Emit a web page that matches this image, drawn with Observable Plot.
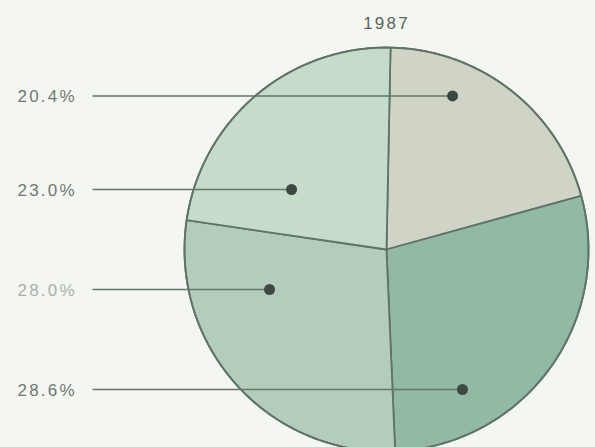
<!DOCTYPE html>
<html>
<head>
<meta charset="utf-8">
<script src="https://cdn.jsdelivr.net/npm/d3@7"></script>
<script src="https://cdn.jsdelivr.net/npm/@observablehq/plot@0.6"></script>
<style>
  html, body { margin: 0; padding: 0; background: #f4f6f2; }
  #chart svg { display: block; }
  #chart svg text { letter-spacing: 2.2px; }
</style>
</head>
<body>
<div id="chart"></div>
<script>
// ---- data (clockwise from 12 o'clock) ----
const title = "1987";
const shares = [20.4, 28.6, 28.0, 23.0];
const shareLabels = ["20.4%", "28.6%", "28.0%", "23.0%"];

// ---- styles / layout (not data) ----
const sliceColors = ["#cfd4c6", "#91b9a4", "#b4ccbc", "#c5dcca"];
const labelColors = ["#6f7871", "#6f7871", "#a9b0aa", "#6f7871"];
// anchor dot inside each slice, in units of the pie radius (x right, y up)
const anchors = [[0.327, 0.76], [0.376, -0.693], [-0.579, -0.198], [-0.47, 0.297]];
const W = 595, H = 447;
const cx = 386, cy = 249, R = 202;       // pie centre & radius in px
const labelX = (17 - cx) / R;            // label left edge (radius units)
const leaderX = (92 - cx) / R;           // leader line start
const rotation = 0.02;                   // slight rotation seen in the print

// ---- geometry built from data ----
const pie = d3.pie().sort(null).startAngle(rotation).endAngle(2 * Math.PI + rotation)(shares);
const polys = [];
pie.forEach((s, i) => {
  polys.push({k: i, x: 0, y: 0});
  const n = Math.max(8, Math.ceil((s.endAngle - s.startAngle) * 60));
  for (let j = 0; j <= n; j++) {
    const a = s.startAngle + (s.endAngle - s.startAngle) * j / n;
    polys.push({k: i, x: Math.sin(a), y: Math.cos(a)});
  }
  polys.push({k: i, x: 0, y: 0});
});
const circle = d3.range(0, 361).map(d => ({x: Math.sin(d * Math.PI / 180), y: Math.cos(d * Math.PI / 180)}));
const items = shares.map((v, i) => ({
  i, label: shareLabels[i], ax: anchors[i][0], ay: anchors[i][1]
}));

const chart = Plot.plot({
  width: W,
  height: H,
  margin: 0,
  style: {background: "#f4f6f2", fontFamily: "'Liberation Sans', Arial, sans-serif"},
  x: {domain: [-cx / R, (W - cx) / R], range: [0, W], axis: null},
  y: {domain: [-(H - cy) / R, cy / R], range: [H, 0], axis: null},
  marks: [
    Plot.line(polys, {
      x: "x", y: "y", z: "k",
      fill: d => sliceColors[d.k],
      stroke: "#5f7466", strokeWidth: 1.8, strokeLinejoin: "round"
    }),
    Plot.line(circle, {x: "x", y: "y", stroke: "#5f7466", strokeWidth: 1.8}),
    Plot.link(items, {
      x1: leaderX, y1: "ay", x2: "ax", y2: "ay",
      stroke: "#65766a", strokeWidth: 1.5
    }),
    Plot.dot(items, {x: "ax", y: "ay", r: 5.5, fill: "#3e4842", stroke: "none"}),
    Plot.text(items, {
      x: labelX, y: "ay", text: "label", textAnchor: "start",
      fill: d => labelColors[d.i], fontSize: 17, dy: 1
    }),
    Plot.text([title], {
      x: 0, frameAnchor: "top", dy: 16, text: d => d,
      fill: "#5b645d", fontSize: 17
    })
  ]
});
document.getElementById("chart").appendChild(chart);
</script>
</body>
</html>
